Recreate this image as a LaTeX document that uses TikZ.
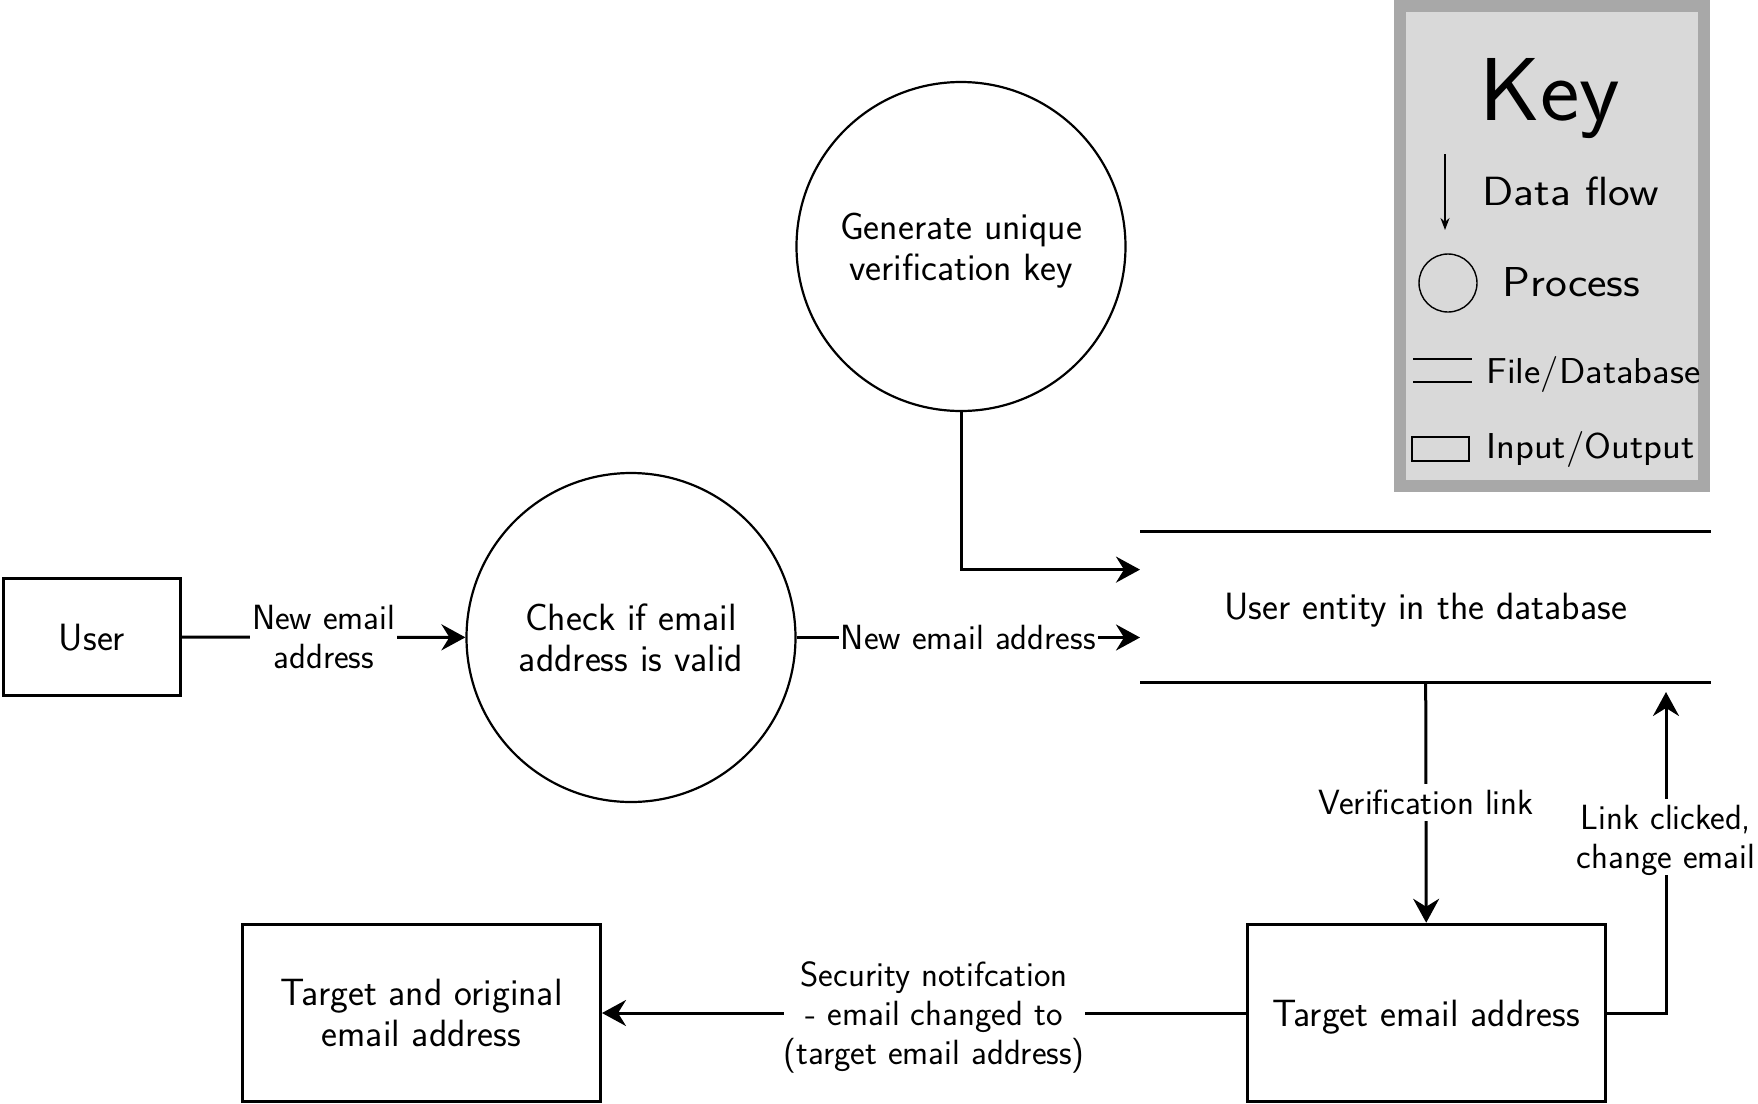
\documentclass[tikz,border=0pt]{standalone}
\usetikzlibrary{arrows.meta}
\definecolor{keyborder}{RGB}{168,168,168}
\definecolor{keyfill}{RGB}{217,217,217}
\begin{document}
\begin{tikzpicture}[x=0.5pt,y=-0.5pt,
  mainfont/.style={font=\sffamily\fontsize{19}{20.7}\selectfont},
  lblfont/.style={font=\sffamily\fontsize{17.5}{19.6}\selectfont},
  iobox/.style={draw, line width=1.5pt, inner sep=0pt, align=center, text depth=0pt, mainfont},
  proc/.style={draw, circle, line width=1.1pt, minimum size=164.5pt, inner sep=0pt, align=center, text depth=0pt, mainfont},
  flow/.style={line width=1.5pt, -{Stealth[length=12pt,width=13pt,inset=4pt]}},
  lbl/.style={fill=white, inner xsep=1pt, inner ysep=3pt, align=center, text depth=0pt, lblfont},
  keytext/.style={anchor=base west, inner sep=0pt, font=\sffamily\fontsize{#1}{#1}\selectfont}]
\useasboundingbox (0,0) rectangle (1758,1104);

% key
\node[draw=keyborder, fill=keyfill, line width=6pt, minimum width=152pt, minimum height=239.75pt, inner sep=0pt] (key) at (1552,245.75) {};
\node[anchor=base, inner sep=0pt, xscale=1.05, transform shape, font=\sffamily\fontsize{44.7}{44.7}\selectfont] (keytitle) at (1550,120) {Key};
\coordinate (kf1) at (1445,154);
\coordinate (kf2) at (1445,230);
\draw[line width=0.9pt, -{Stealth[length=6pt,width=4.5pt]}] (kf1) -- (kf2);
\node[keytext=20.4, xscale=1.13, transform shape] (kflow) at (1482,205) {Data flow};
\node[draw, circle, minimum size=29pt, inner sep=0pt, line width=0.7pt] (kcirc) at (1448,283) {};
\node[keytext=20.9, xscale=1.11, transform shape] (kproc) at (1502,296) {Process};
\draw[line width=0.9pt] (1413,359) -- (1472,359);
\draw[line width=0.9pt] (1413,382) -- (1472,382);
\node[keytext=18, xscale=1.08, transform shape] (kdb) at (1486,383) {File/Database};
\draw[line width=0.9pt] (1412,437) rectangle (1469,461);
\node[keytext=18, xscale=1.08, transform shape] (kio) at (1486,458) {Input/Output};

% nodes
\node[iobox, minimum width=88.5pt, minimum height=58.5pt] (user) at (92,637) {User};
\node[proc] (check) at (631,637.5) {Check if email\\address is valid};
\node[proc] (gen) at (961,246.5) {Generate unique\\verification key};
\node[inner sep=0pt, minimum width=285.3pt, minimum height=75.1pt, text depth=0pt, mainfont] (db) at (1425.7,606.6) {User entity in the database};
\draw[line width=1.5pt] (db.north west) -- (db.north east);
\draw[line width=1.5pt] (db.south west) -- (db.south east);
\node[iobox, minimum width=179pt, minimum height=88.75pt] (tgt) at (1426.2,1013) {Target email address};
\node[iobox, minimum width=179pt, minimum height=88.75pt] (tao) at (421.5,1013) {Target and original\\email address};
\coordinate (lc) at (1666,692);

% connectors
\draw[flow] (user) -- (check) node[lbl, midway] {New email\\address};
\draw[flow] (check.east) -- (check.east -| db.west) node[lbl, midway, inner ysep=0pt] {New email address};
\draw[flow] (gen.south) |- ([yshift=18.5pt]db.west);
\draw[flow] (db.south) -- (tgt.north) node[lbl, midway] {Verification link};
\draw[flow] (tgt.east) -| (lc) node[lbl, pos=0.774] {Link clicked,\\change email};
\draw[flow] (tgt.west) -- (tao.east) node[lbl, pos=0.484, inner xsep=0pt] {Security notifcation\\- email changed to\\(target email address)};
\end{tikzpicture}
\end{document}
